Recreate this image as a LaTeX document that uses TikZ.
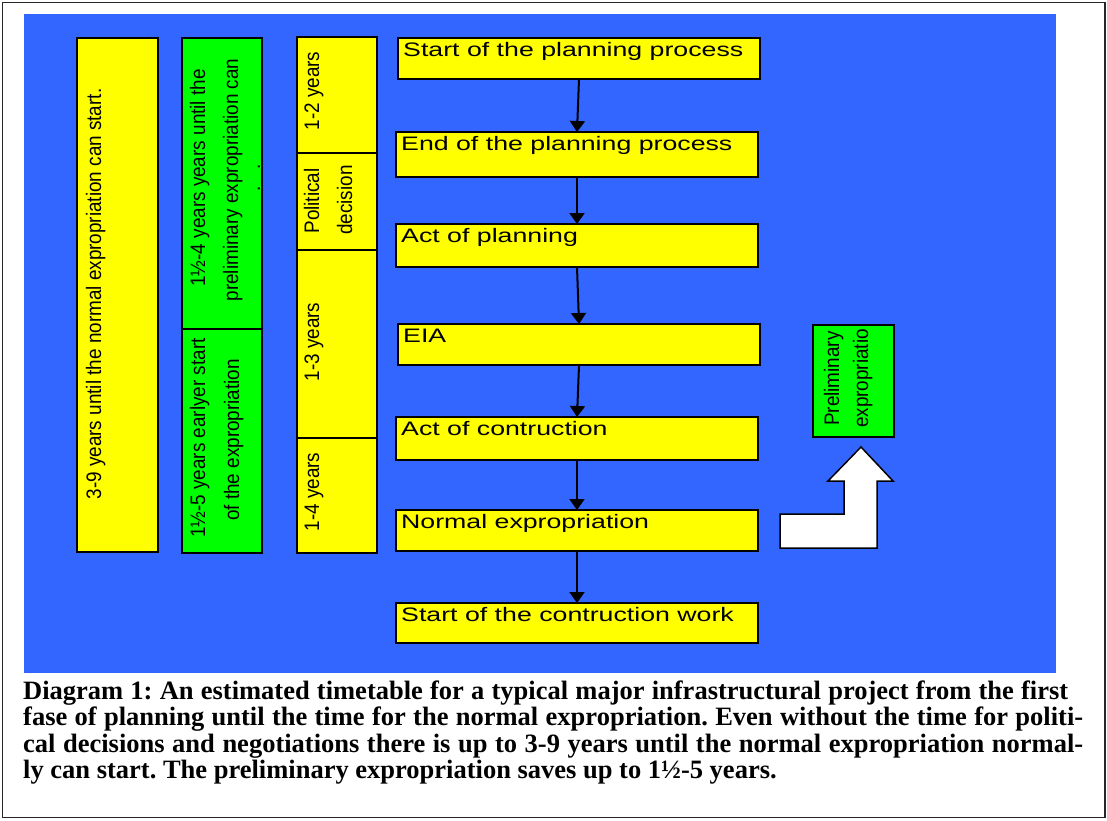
\documentclass[tikz,border=0pt]{standalone}
\usepackage{fontspec}
\setmainfont{Liberation Sans}
\newfontfamily\flowfont[FakeStretch=1.37]{Liberation Sans}
\newfontfamily\vfont[FakeStretch=0.9]{Liberation Sans}
\newfontfamily\capfont{Liberation Serif}
\usetikzlibrary{arrows.meta}
\definecolor{bgblue}{HTML}{3366FF}
\definecolor{ylw}{HTML}{FFFF00}
\definecolor{grn}{HTML}{00FF00}
\begin{document}
\begin{tikzpicture}[x=1pt,y=-1pt,
  cell/.style={draw=black, line width=2pt, inner sep=0pt, outer sep=0pt},
  ycell/.style={cell, fill=ylw},
  gcell/.style={cell, fill=grn},
  flowbox/.style={ycell, minimum width=362pt},
  flowtext/.style={font=\flowfont\fontsize{19.5}{22}\selectfont, anchor=base west, inner sep=0pt},
  vtext/.style={font=\vfont\fontsize{21}{24}\selectfont, rotate=90, anchor=base, inner sep=0pt},
  vtextl/.style={font=\vfont\fontsize{21}{24}\selectfont, rotate=90, anchor=base west, inner sep=0pt},
  captext/.style={font=\capfont\bfseries\fontsize{26.5}{28}\selectfont\frenchspacing, anchor=base west, inner sep=0pt},
  flowarrow/.style={line width=2pt, -{Triangle[width=15pt,length=11pt]}},
  blockarrow/.style={draw=black, fill=white, line width=1.5pt, line join=miter},
]
\useasboundingbox (0,0) rectangle (1107,820);
\fill[white] (0,0) rectangle (1107,820);
\draw[line width=1.5pt, black!85] (2.5,2.5) rectangle (1105,817.5);
\fill[bgblue] (24,14) rectangle (1056,673);

% left columns
\node[ycell, minimum width=81pt, minimum height=514pt] (c1) at (117.5,295) {};
\node[vtext] (c1t) at (101,294) {3-9 years until the normal expropriation can start.};

\node[gcell, minimum width=80pt, minimum height=291pt] (c2a) at (222,183) {};
\node[gcell, minimum width=80pt, minimum height=224pt] (c2b) at (222,441) {};
\node[vtext] (c2a1) at (205,178) {1½-4 years years until the};
\node[vtext] (c2a2) at (238,180) {preliminary expropriation can};
\node[vtext] (c2a3) at (260,178) {.\hspace{17pt}.};
\node[vtext] (c2b1) at (205,438) {1½-5 years earlyer start};
\node[vtext] (c2b2) at (239,440) {of the expropriation};

\node[ycell, minimum width=80pt, minimum height=116pt] (c3a) at (337,95) {};
\node[ycell, minimum width=80pt, minimum height=97pt] (c3b) at (337,201.5) {};
\node[ycell, minimum width=80pt, minimum height=188pt] (c3c) at (337,344) {};
\node[ycell, minimum width=80pt, minimum height=115pt] (c3d) at (337,495.5) {};
\node[vtext] (c3at) at (319,91) {1-2 years};
\node[vtext] (c3bt1) at (319,201) {Political};
\node[vtext] (c3bt2) at (352,200) {decision};
\node[vtext] (c3ct) at (319,342) {1-3 years};
\node[vtext] (c3dt) at (319,492) {1-4 years};

% flow boxes
\node[flowbox, minimum height=41pt] (b1) at (579,58.5) {};
\node[flowbox, minimum height=45pt] (b2) at (577,154.5) {};
\node[flowbox, minimum height=43pt] (b3) at (577,245.5) {};
\node[flowbox, minimum height=41pt] (b4) at (579,344.5) {};
\node[flowbox, minimum height=43pt] (b5) at (577,438.5) {};
\node[flowbox, minimum height=41pt] (b6) at (577,530.5) {};
\node[flowbox, minimum height=40pt] (b7) at (577,623) {};
\node[flowtext] (t1) at ([xshift=5pt,yshift=-18pt]b1.north west) {Start of the planning process};
\node[flowtext] (t2) at ([xshift=5pt,yshift=-18pt]b2.north west) {End of the planning process};
\node[flowtext] (t3) at ([xshift=5pt,yshift=-18pt]b3.north west) {Act of planning};
\node[flowtext] (t4) at ([xshift=5pt,yshift=-18pt]b4.north west) {EIA};
\node[flowtext] (t5) at ([xshift=5pt,yshift=-18pt]b5.north west) {Act of contruction};
\node[flowtext] (t6) at ([xshift=5pt,yshift=-18pt]b6.north west) {Normal expropriation};
\node[flowtext] (t7) at ([xshift=5pt,yshift=-18pt]b7.north west) {Start of the contruction work};

\draw[flowarrow] (b1.south) -- (b2.north);
\draw[flowarrow] (b2.south) -- (b3.north);
\draw[flowarrow] (b3.south) -- (b4.north);
\draw[flowarrow] (b4.south) -- (b5.north);
\draw[flowarrow] (b5.south) -- (b6.north);
\draw[flowarrow] (b6.south) -- (b7.north);

% preliminary expropriation
\node[gcell, minimum width=81pt, minimum height=112pt] (pe) at (853.5,381) {};
\node[vtextl] (pe1) at (839,426) {Preliminary};
\node[vtextl] (pe2) at (868,428) {expropriatio};

% bent block arrow
\draw[blockarrow] (780,548) -- (780,514) -- (844,514) -- (844,481) -- (828,481)
  -- (861,447) -- (893,481) -- (877,481) -- (877,548) -- cycle;

% caption
\node[captext] (cap1) at (23,699) {\makebox[1045pt][s]{Diagram 1: An estimated timetable for a typical major infrastructural project from the first}};
\node[captext] (cap2) at (23,725.5) {\makebox[1060pt][s]{fase of planning until the time for the normal expropriation. Even without the time for politi-}};
\node[captext] (cap3) at (23,752) {\makebox[1060pt][s]{cal decisions and negotiations there is up to 3-9 years until the normal expropriation normal-}};
\node[captext] (cap4) at (23,778) {ly can start. The preliminary expropriation saves up to 1½-5 years.};
\end{tikzpicture}
\end{document}
